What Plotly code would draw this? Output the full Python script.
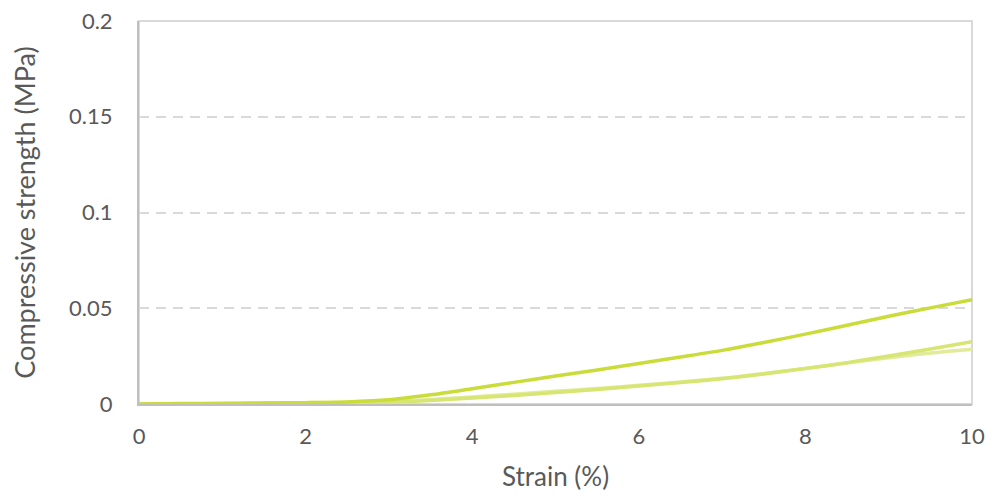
import plotly.graph_objects as go

strain = [0, 0.5, 1, 1.5, 2, 2.5, 3, 3.5, 4, 4.5, 5, 5.5, 6, 6.5, 7, 7.5, 8, 8.5, 9, 9.5, 10]
sample_a = [0, 0.0002, 0.0003, 0.0005, 0.0007, 0.0011, 0.0022, 0.0048, 0.0080, 0.0113, 0.0146, 0.0178, 0.0211, 0.0245, 0.0280, 0.0321, 0.0365, 0.0411, 0.0458, 0.0502, 0.0545]
sample_b = [0, 0.0001, 0.0002, 0.0003, 0.0005, 0.0007, 0.0010, 0.0018, 0.0031, 0.0045, 0.0060, 0.0076, 0.0094, 0.0112, 0.0132, 0.0157, 0.0185, 0.0216, 0.0251, 0.0287, 0.0325]
sample_c = [0, 0.0001, 0.0002, 0.0004, 0.0006, 0.0009, 0.0014, 0.0024, 0.0037, 0.0051, 0.0066, 0.0081, 0.0098, 0.0115, 0.0134, 0.0159, 0.0186, 0.0214, 0.0242, 0.0266, 0.0286]

x_ticks = [0, 2, 4, 6, 8, 10]
y_ticks = [0, 0.05, 0.1, 0.15, 0.2]
y_tick_labels = ["0", "0.05", "0.1", "0.15", "0.2"]

fig = go.Figure()
for ys, col in [(sample_c, "#e1eb98"), (sample_b, "#d7e572"), (sample_a, "#c9dc3a")]:
    fig.add_trace(go.Scatter(x=strain, y=ys, mode="lines",
                             line=dict(color=col, width=3.5, shape="spline", smoothing=0.8),
                             showlegend=False))

family = "Lato, 'Open Sans', sans-serif"
tick_font = dict(family=family, size=22, color="#595959")
title_font = dict(family=family, size=27, color="#595959")
fig.update_layout(
    width=982, height=484,
    margin=dict(l=131, r=18, t=13, b=88),
    paper_bgcolor="white", plot_bgcolor="white",
    font=tick_font,
    shapes=[dict(type="rect", xref="paper", yref="paper", x0=0, y0=0, x1=1, y1=1,
                 line=dict(color="#d9d9d9", width=2), layer="below")],
)
fig.update_xaxes(range=[0, 10], tickvals=x_ticks, ticktext=[str(t) for t in x_ticks],
                 showgrid=False, zeroline=False, showline=True, linecolor="#bfbfbf", linewidth=2,
                 ticks="", ticklabelstandoff=12, tickfont=tick_font, automargin=False,
                 ticklabeloverflow="allow",
                 title=dict(text="Strain (%)", font=dict(family=family, size=26, color="#595959"), standoff=20))
fig.update_yaxes(range=[0, 0.2], tickvals=y_ticks, ticktext=y_tick_labels,
                 showgrid=True, gridcolor="#d9d9d9", griddash="10px,7px", gridwidth=2,
                 zeroline=False, showline=True, linecolor="#bfbfbf", linewidth=2,
                 ticks="", ticklabelstandoff=20, tickfont=tick_font, automargin=False,
                 ticklabeloverflow="allow",
                 title=dict(text="Compressive strength (MPa)", font=title_font, standoff=30))

fig.write_html("out.html")
